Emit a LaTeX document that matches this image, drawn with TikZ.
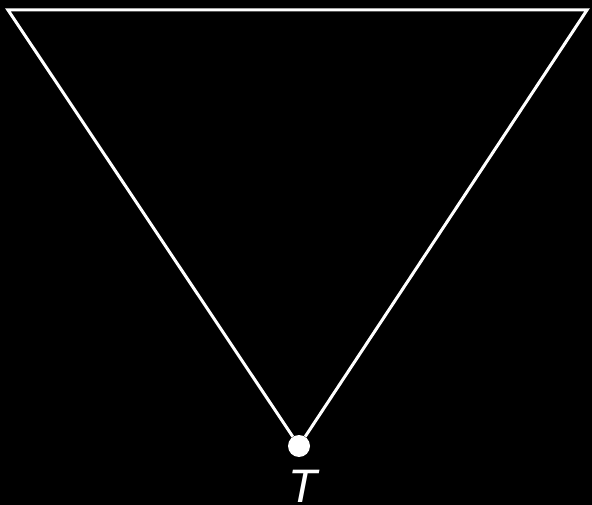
\documentclass[tikz,border=0pt]{standalone}
\usepackage{fontspec}
\setsansfont{Liberation Sans}
\begin{document}
\begin{tikzpicture}[x=1pt,y=-1pt]
  \tikzset{
    edge/.style={draw=white,line width=3pt},
    vertex/.style={circle,fill=white,inner sep=0pt,minimum size=22pt},
    lbl/.style={text=white,inner sep=0pt,text depth=0pt,font=\sffamily\itshape\fontsize{47}{50}\selectfont}
  }
  \fill[black] (0,0) rectangle (592,505);
  \useasboundingbox (0,0) rectangle (592,505);
  \coordinate (tl) at (8,10);
  \coordinate (tr) at (587,10);
  \node[vertex] (tip) at (299,446) {};
  \node[lbl,anchor=base] (tname) at (303,502) {T};
  \draw[edge] (tip) -- (tl) -- (tr) -- (tip);
\end{tikzpicture}
\end{document}
